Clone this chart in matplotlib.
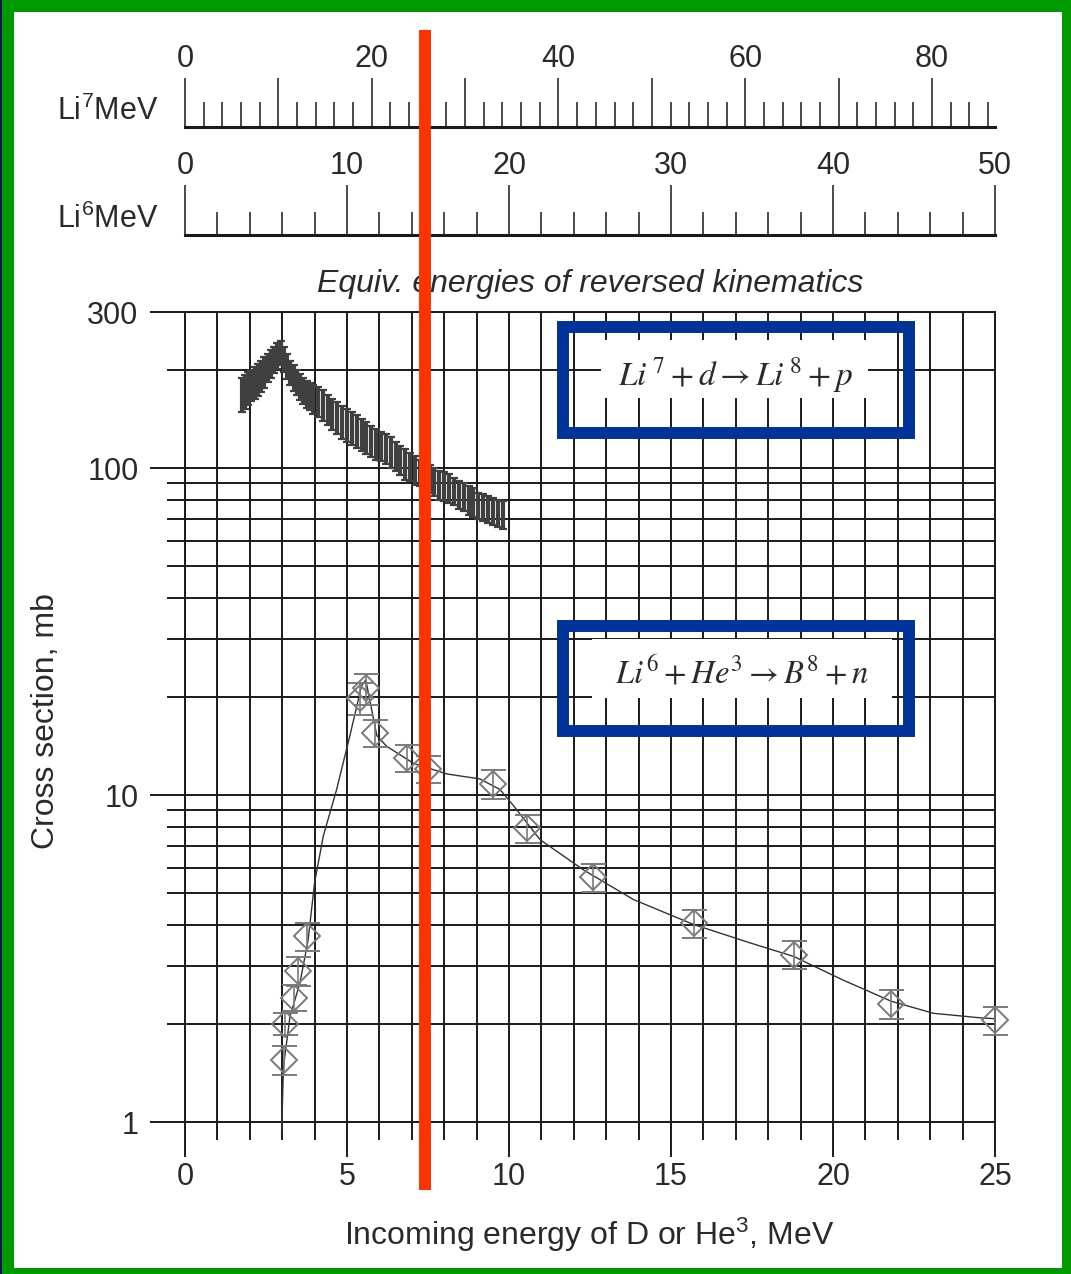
import numpy as np
import matplotlib.pyplot as plt
from matplotlib.ticker import MultipleLocator, FixedLocator, FuncFormatter, NullFormatter
from matplotlib.patches import Rectangle
from matplotlib.lines import Line2D

plt.rcParams['font.family'] = ['Liberation Sans', 'DejaVu Sans']
plt.rcParams['mathtext.fontset'] = 'custom'
plt.rcParams['mathtext.rm'] = 'Liberation Sans'
plt.rcParams['mathtext.it'] = 'Liberation Sans:italic'
plt.rcParams['mathtext.bf'] = 'Liberation Sans:bold'

W, H = 1071, 1274

# Li7 + d -> Li8 + p, dense measurement (MeV, mb)
li7_e = [1.75, 1.85, 1.95, 2.05, 2.15, 2.25, 2.35, 2.45, 2.55, 2.65, 2.75, 2.85,
         2.95, 3.05, 3.15, 3.25, 3.35, 3.45, 3.55, 3.65, 3.75, 3.85, 3.95,
         4.1, 4.25, 4.4, 4.55, 4.7, 4.85, 5.0, 5.15, 5.3, 5.45, 5.6, 5.75, 5.9,
         6.05, 6.2, 6.35, 6.5, 6.65, 6.8, 6.95, 7.1, 7.25, 7.4, 7.55, 7.7, 7.85,
         8.0, 8.15, 8.3, 8.45, 8.6, 8.75, 8.9, 9.05, 9.2, 9.35, 9.5, 9.65, 9.8]
li7_sig = [168, 172, 176, 180, 183, 187, 192, 197, 203, 209, 215, 221,
           226, 215, 205, 196, 189, 183, 178, 173, 169, 166, 163,
           160, 156, 151, 147, 143, 139, 136, 133, 130, 127, 124, 121, 119,
           117, 115, 112, 109, 106, 103, 101, 99, 97, 95, 93, 91, 89,
           88, 87, 85, 83, 82, 80, 79, 77, 76, 75, 74, 73, 72]
li7_err = [20, 20, 20, 20, 20, 21, 21, 21, 20, 20, 20, 20,
           19, 19, 18, 17, 17, 16, 16, 16, 16, 16, 17,
           17, 17, 16, 16, 16, 16, 16, 15, 15, 14, 14, 13, 13,
           12, 12, 12, 11, 11, 11, 10, 10, 9, 9, 9, 9, 9,
           9, 9, 8, 8, 8, 8, 8, 7, 7, 7, 7, 7, 7]

# Li6 + He3 -> B8 + n
li6_e = [3.05, 3.1, 3.35, 3.5, 3.75, 5.4, 5.6, 5.85, 6.85, 7.5, 9.5, 10.55,
         12.6, 15.7, 18.8, 21.8, 25.0]
li6_sig = [1.55, 2.0, 2.4, 2.9, 3.7, 19.8, 21.2, 15.5, 13.0, 12.0, 10.8, 7.9,
           5.6, 4.05, 3.25, 2.3, 2.05]
li6_err = [0.16, 0.16, 0.22, 0.29, 0.37, 2.2, 2.3, 1.45, 1.25, 1.15, 1.1, 0.78,
           0.55, 0.4, 0.32, 0.24, 0.2]

# hand-drawn curve through the Li6 points
fit_e = [2.98, 3.04, 3.24, 3.55, 3.8, 4.0, 4.27, 4.68, 5.09, 5.45, 5.58, 5.92,
         6.22, 7.05, 8.08, 9.1, 9.72, 10.13, 10.96, 12.3, 13.84, 15.69, 17.44,
         18.78, 20.3, 21.8, 23.1, 24.6, 25.0]
fit_sig = [0.92, 1.48, 2.1, 2.67, 3.6, 5.4, 7.5, 10.4, 15.2, 21.6, 22.5, 15.2,
           14.1, 12.5, 11.6, 11.2, 10.4, 9.3, 7.3, 5.9, 4.79, 4.02, 3.53,
           3.21, 2.72, 2.34, 2.15, 2.08, 2.07]

x_ticks = [0, 5, 10, 15, 20, 25]
y_ticks = [1, 10, 100, 300]
y_minor = [2, 3, 4, 5, 6, 7, 8, 9, 20, 30, 40, 50, 60, 70, 80, 90, 200]

# reversed kinematics: E_Li = E_beam * (scale factor)
ratio_li7 = 3.47
ratio_li6 = 2.0

gridc = '#1a1a1a'
txtc = '#2a2a2a'


def fx(px):
    return px / W


def fy(py):
    return 1 - py / H


fig = plt.figure(figsize=(W / 100, H / 100), dpi=100)

# main panel
ax = fig.add_axes([fx(185), fy(1122), 810 / W, 810 / H])
ax.set_yscale('log')
ax.set_axisbelow(True)

ax.errorbar(li7_e, li7_sig, yerr=li7_err, fmt='none', ecolor='#404040',
            elinewidth=3.0, capsize=2.8, capthick=1.6, zorder=3)

ax.plot(fit_e, fit_sig, color='#333333', lw=1.0, zorder=3, clip_on=False)
eb = ax.errorbar(li6_e, li6_sig, yerr=li6_err, fmt='D', ms=13.5, mfc='none',
                 mec='#7a7a7a', mew=1.4, ecolor='#7a7a7a', elinewidth=1.2,
                 capsize=9, capthick=1.2, zorder=4)
eb[0].set_clip_on(False)
for a in eb[1]:
    a.set_clip_on(False)
for a in eb[2]:
    a.set_clip_on(False)

ax.set_xlim(0, 25)
ax.set_ylim(1, 300)
ax.xaxis.set_major_locator(FixedLocator(x_ticks))
ax.xaxis.set_minor_locator(MultipleLocator(1))
ax.yaxis.set_major_locator(FixedLocator(y_ticks))
ax.yaxis.set_minor_locator(FixedLocator(y_minor))
ax.yaxis.set_major_formatter(FuncFormatter(lambda v, p: f'{v:g}'))
ax.yaxis.set_minor_formatter(NullFormatter())
ax.grid(True, which='both', color=gridc, lw=1.4)
for s in ax.spines.values():
    s.set_color(gridc)
    s.set_linewidth(1.4)
ax.tick_params(which='major', direction='out', length=25, width=1.4,
               color=gridc, labelsize=22, labelcolor=txtc)
ax.tick_params(which='minor', direction='out', length=13, width=1.4, color=gridc)
ax.tick_params(axis='x', pad=3.5)
ax.tick_params(axis='y', pad=8.5)

# white boxes behind the reaction labels
for (x0, y0, x1, y1) in [(601, 340, 868, 398), (592, 639, 892, 698)]:
    ax.add_artist(Rectangle((fx(x0), fy(y1)), (x1 - x0) / W, (y1 - y0) / H,
                            transform=fig.transFigure, fc='white', ec='none',
                            zorder=1))

ax.text(fx(736), fy(385), r'$Li^{\,7} + d \rightarrow Li^{\,8} + p$',
        transform=fig.transFigure, math_fontfamily='stix', fontsize=24,
        ha='center', va='baseline', color=txtc, zorder=4)
ax.text(fx(742), fy(683), r'$Li^{6} + He^{3} \rightarrow B^{8} + n$',
        transform=fig.transFigure, math_fontfamily='stix', fontsize=23.5,
        ha='center', va='baseline', color=txtc, zorder=4)

# blue highlight boxes
for (x0, y0, x1, y1) in [(562.5, 327.5, 909, 432.5), (562.5, 626, 909, 731)]:
    ax.add_artist(Rectangle((fx(x0), fy(y1)), (x1 - x0) / W, (y1 - y0) / H,
                            transform=fig.transFigure, fc='none', ec='#003399',
                            lw=8.6, zorder=5, clip_on=False))

# equivalent-energy scales on top
def top_scale(ybase, height, xmax, major_len, minor_len, fmt, pad):
    a = fig.add_axes([fx(185), fy(ybase), 810 / W, height / H])
    a.set_xlim(0, xmax)
    a.set_ylim(0, 1)
    a.set_yticks([])
    a.patch.set_alpha(0)
    for k in ['top', 'left', 'right']:
        a.spines[k].set_visible(False)
    a.spines['bottom'].set_color(gridc)
    a.spines['bottom'].set_linewidth(2.2)
    a.xaxis.set_major_locator(MultipleLocator(10))
    a.xaxis.set_minor_locator(MultipleLocator(2))
    a.xaxis.set_major_formatter(FuncFormatter(fmt))
    a.tick_params(axis='x', which='both', direction='in', bottom=True, top=False,
                  labelbottom=False, labeltop=True, color=gridc, width=1.1)
    a.tick_params(axis='x', which='major', length=major_len, pad=pad,
                  labelsize=22, labelcolor=txtc)
    a.tick_params(axis='x', which='minor', length=minor_len)
    return a


top_scale(127, 49, 25 * ratio_li7, 35, 18,
          lambda v, p: f'{v:.0f}' if round(v) % 20 == 0 else '', 3)
top_scale(235, 50, 25 * ratio_li6, 36, 16.5, lambda v, p: f'{v:.0f}', 3)

fig.text(fx(158), fy(120), r'Li$^7$MeV', ha='right', va='baseline',
         fontsize=22, color=txtc)
fig.text(fx(158), fy(228), r'Li$^6$MeV', ha='right', va='baseline',
         fontsize=22, color=txtc)
fig.text(fx(590), fy(292), 'Equiv. energies of reversed kinematics',
         style='italic', ha='center', va='baseline', fontsize=23, color=txtc)
fig.text(fx(46), fy(721), 'Cross section, mb', rotation=90, ha='center',
         va='center', fontsize=23, color=txtc)
fig.text(fx(589), fy(1245), r'Incoming energy of D or He$^3$, MeV',
         ha='center', va='baseline', fontsize=23, color=txtc)

# red marker line
fig.add_artist(Line2D([fx(425), fx(425)], [fy(30), fy(1190)],
                      transform=fig.transFigure, color='#ff3300', lw=8.6,
                      solid_capstyle='butt', zorder=10))

# green frame
def frame_rect(x0, y0, x1, y1, color):
    fig.add_artist(Rectangle((fx(x0), fy(y1)), (x1 - x0) / W, (y1 - y0) / H,
                             transform=fig.transFigure, fc=color, ec='none',
                             zorder=11))


frame_rect(0, 0, W, 12, '#009900')
frame_rect(2, 0, 14, H, '#009900')
frame_rect(1062, 0, W, H, '#009900')
frame_rect(0, 1268, W, H, '#009900')
frame_rect(0, 0, 2, H, '#001a4d')

fig.savefig('out.png', dpi=100)
